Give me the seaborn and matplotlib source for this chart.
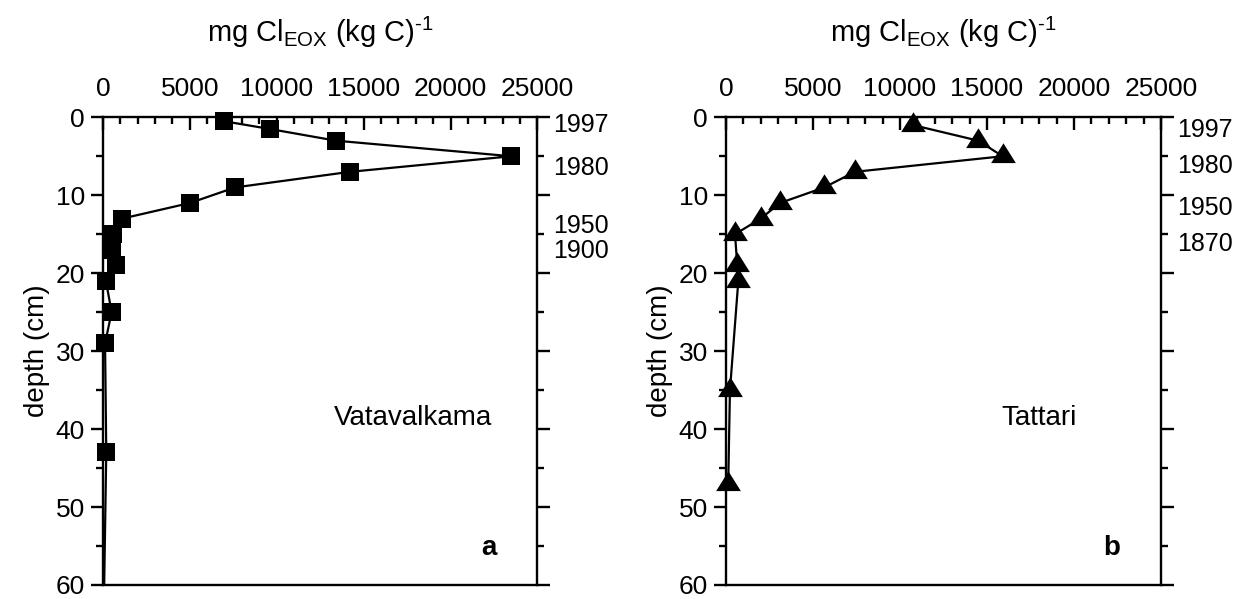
import numpy as np
import matplotlib
matplotlib.use('Agg')
import matplotlib.pyplot as plt
from matplotlib.path import Path
from matplotlib.ticker import MultipleLocator
import seaborn as sns

# data: depth (cm) and mg Cl_EOX (kg C)-1
vata_depth = [0.5, 1.5, 3, 5, 7, 9, 11, 13, 15, 17, 19, 21, 25, 29, 43, 63]
vata_eox = [6950, 9600, 13400, 23500, 14200, 7600, 5000, 1100, 600, 500, 750, 170, 500, 120, 190, 50]

tatt_depth = [1, 3, 5, 7, 9, 11, 13, 15, 19, 21, 35, 47]
tatt_eox = [10750, 14500, 15900, 7400, 5650, 3100, 2000, 520, 650, 710, 230, 130]

vata_years = ['1997', '1980', '1950', '1900']
vata_year_depth = [1.0, 6.5, 14.0, 17.2]
tatt_years = ['1997', '1980', '1950', '1870']
tatt_year_depth = [1.6, 6.2, 11.6, 16.3]

sns.set_style('ticks')
plt.rcParams['font.family'] = ['Liberation Sans', 'DejaVu Sans']
plt.rcParams['mathtext.default'] = 'regular'
plt.rcParams['axes.linewidth'] = 1.7
for k in ['text.color', 'axes.labelcolor', 'xtick.color', 'ytick.color', 'axes.edgecolor']:
    plt.rcParams[k] = 'black'

# triangle centred on its centroid
tri = Path([(0, 1), (-0.9375, -0.5), (0.9375, -0.5), (0, 1)],
           [Path.MOVETO, Path.LINETO, Path.LINETO, Path.CLOSEPOLY])

fig = plt.figure(figsize=(12.51, 5.99), dpi=100)
ax_a = fig.add_axes([0.0823, 0.0234, 0.3473, 0.7808])
ax_b = fig.add_axes([0.5803, 0.0234, 0.3477, 0.7808])

xlab = 'mg Cl$_{EOX}$ (kg C)$^{\u20101}$'


def style_axis(ax, years, ydepth, site, site_x, letter):
    ax.set_xlim(0, 25000)
    ax.set_ylim(60, 0)
    ax.xaxis.set_label_position('top')
    ax.xaxis.tick_top()
    ax.xaxis.set_major_locator(MultipleLocator(5000))
    ax.xaxis.set_minor_locator(MultipleLocator(1000))
    ax.yaxis.set_major_locator(MultipleLocator(10))
    ax.yaxis.set_minor_locator(MultipleLocator(5))
    ax.tick_params(axis='x', which='both', direction='in', top=True, bottom=False,
                   labelsize=19, pad=12, width=1.7)
    ax.tick_params(axis='x', which='major', length=9)
    ax.tick_params(axis='x', which='minor', length=5)
    ax.tick_params(axis='y', which='both', direction='out', left=True, right=True,
                   labelsize=19, width=1.7, pad=4)
    ax.tick_params(axis='y', which='major', length=9)
    ax.tick_params(axis='y', which='minor', length=5)
    ax.set_xlabel(xlab, fontsize=21, labelpad=25)
    ax.set_ylabel('depth (cm)', fontsize=20, labelpad=4)
    for yr, d in zip(years, ydepth):
        ax.text(1.037, d, yr, transform=ax.get_yaxis_transform(),
                fontsize=18, va='center', ha='left')
    ax.text(site_x, 38.6, site, fontsize=20, ha='center', va='center')
    ax.text(0.907, 55.3, letter, fontsize=20, fontweight='bold',
            ha='right', va='center', transform=ax.get_yaxis_transform())
    for s in ax.spines.values():
        s.set_visible(True)


# lines (clipped to the frame), then markers drawn on top unclipped
sns.lineplot(x=vata_eox, y=vata_depth, sort=False, estimator=None, ax=ax_a,
             color='black', lw=1.6)
sns.lineplot(x=vata_eox[:-1], y=vata_depth[:-1], sort=False, estimator=None, ax=ax_a,
             color='black', lw=0, marker='s', markersize=13.5,
             mec='black', mfc='black', mew=0, clip_on=False)
sns.lineplot(x=tatt_eox, y=tatt_depth, sort=False, estimator=None, ax=ax_b,
             color='black', lw=1.6, marker=tri, markersize=19,
             mec='black', mfc='black', mew=0, clip_on=False)

style_axis(ax_a, vata_years, vata_year_depth, 'Vatavalkama', 17840, 'a')
style_axis(ax_b, tatt_years, tatt_year_depth, 'Tattari', 18000, 'b')

fig.savefig('out.png', dpi=100)
